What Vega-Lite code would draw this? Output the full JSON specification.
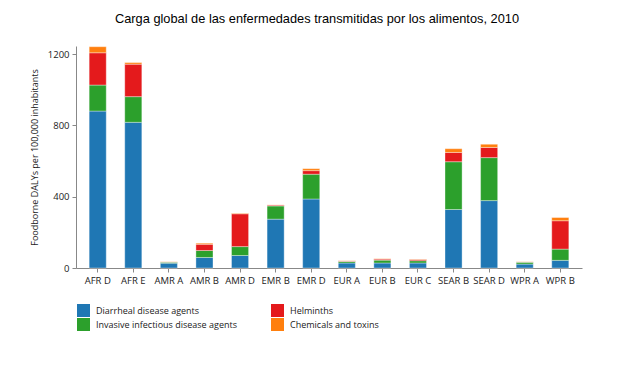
{
  "$schema": "https://vega.github.io/schema/vega-lite/v6.json",
  "width": 506,
  "height": 222,
  "autosize": {"type": "none"},
  "padding": {"left": 76, "top": 46, "right": 48, "bottom": 101},
  "background": "white",
  "title": {
    "text": "Carga global de las enfermedades transmitidas por los alimentos, 2010",
    "font": "Liberation Sans",
    "fontSize": 12.8,
    "fontWeight": "normal",
    "color": "#000000",
    "anchor": "middle",
    "baseline": "alphabetic",
    "offset": 10,
    "dx": -12
  },
  "config": {
    "view": {"stroke": null},
    "axis": {"grid": false, "domainColor": "#888888", "tickColor": "#888888", "tickSize": 4, "labelFont": "Open Sans", "labelFontSize": 9.5, "labelColor": "#222222", "titleFont": "Open Sans", "titleFontSize": 9, "titleFontWeight": "normal", "titleColor": "#222222"}
  },
  "data": {
    "values": [
      {"region": "AFR D", "agent": "Diarrheal disease agents", "dalys": 880},
      {"region": "AFR D", "agent": "Invasive infectious disease agents", "dalys": 146},
      {"region": "AFR D", "agent": "Helminths", "dalys": 181},
      {"region": "AFR D", "agent": "Chemicals and toxins", "dalys": 34},
      {"region": "AFR E", "agent": "Diarrheal disease agents", "dalys": 817},
      {"region": "AFR E", "agent": "Invasive infectious disease agents", "dalys": 144},
      {"region": "AFR E", "agent": "Helminths", "dalys": 182},
      {"region": "AFR E", "agent": "Chemicals and toxins", "dalys": 9},
      {"region": "AMR A", "agent": "Diarrheal disease agents", "dalys": 27},
      {"region": "AMR A", "agent": "Invasive infectious disease agents", "dalys": 6},
      {"region": "AMR A", "agent": "Helminths", "dalys": 1},
      {"region": "AMR A", "agent": "Chemicals and toxins", "dalys": 1},
      {"region": "AMR B", "agent": "Diarrheal disease agents", "dalys": 59},
      {"region": "AMR B", "agent": "Invasive infectious disease agents", "dalys": 39},
      {"region": "AMR B", "agent": "Helminths", "dalys": 35},
      {"region": "AMR B", "agent": "Chemicals and toxins", "dalys": 6},
      {"region": "AMR D", "agent": "Diarrheal disease agents", "dalys": 70},
      {"region": "AMR D", "agent": "Invasive infectious disease agents", "dalys": 50},
      {"region": "AMR D", "agent": "Helminths", "dalys": 184},
      {"region": "AMR D", "agent": "Chemicals and toxins", "dalys": 3},
      {"region": "EMR B", "agent": "Diarrheal disease agents", "dalys": 274},
      {"region": "EMR B", "agent": "Invasive infectious disease agents", "dalys": 74},
      {"region": "EMR B", "agent": "Helminths", "dalys": 5},
      {"region": "EMR B", "agent": "Chemicals and toxins", "dalys": 1},
      {"region": "EMR D", "agent": "Diarrheal disease agents", "dalys": 387},
      {"region": "EMR D", "agent": "Invasive infectious disease agents", "dalys": 139},
      {"region": "EMR D", "agent": "Helminths", "dalys": 20},
      {"region": "EMR D", "agent": "Chemicals and toxins", "dalys": 11},
      {"region": "EUR A", "agent": "Diarrheal disease agents", "dalys": 28},
      {"region": "EUR A", "agent": "Invasive infectious disease agents", "dalys": 9},
      {"region": "EUR A", "agent": "Helminths", "dalys": 3},
      {"region": "EUR A", "agent": "Chemicals and toxins", "dalys": 1},
      {"region": "EUR B", "agent": "Diarrheal disease agents", "dalys": 28},
      {"region": "EUR B", "agent": "Invasive infectious disease agents", "dalys": 16},
      {"region": "EUR B", "agent": "Helminths", "dalys": 6},
      {"region": "EUR B", "agent": "Chemicals and toxins", "dalys": 2},
      {"region": "EUR C", "agent": "Diarrheal disease agents", "dalys": 28},
      {"region": "EUR C", "agent": "Invasive infectious disease agents", "dalys": 13},
      {"region": "EUR C", "agent": "Helminths", "dalys": 7},
      {"region": "EUR C", "agent": "Chemicals and toxins", "dalys": 2},
      {"region": "SEAR B", "agent": "Diarrheal disease agents", "dalys": 328},
      {"region": "SEAR B", "agent": "Invasive infectious disease agents", "dalys": 268},
      {"region": "SEAR B", "agent": "Helminths", "dalys": 52},
      {"region": "SEAR B", "agent": "Chemicals and toxins", "dalys": 21},
      {"region": "SEAR D", "agent": "Diarrheal disease agents", "dalys": 378},
      {"region": "SEAR D", "agent": "Invasive infectious disease agents", "dalys": 241},
      {"region": "SEAR D", "agent": "Helminths", "dalys": 57},
      {"region": "SEAR D", "agent": "Chemicals and toxins", "dalys": 18},
      {"region": "WPR A", "agent": "Diarrheal disease agents", "dalys": 22},
      {"region": "WPR A", "agent": "Invasive infectious disease agents", "dalys": 11},
      {"region": "WPR A", "agent": "Helminths", "dalys": 1},
      {"region": "WPR A", "agent": "Chemicals and toxins", "dalys": 1},
      {"region": "WPR B", "agent": "Diarrheal disease agents", "dalys": 43},
      {"region": "WPR B", "agent": "Invasive infectious disease agents", "dalys": 63},
      {"region": "WPR B", "agent": "Helminths", "dalys": 159},
      {"region": "WPR B", "agent": "Chemicals and toxins", "dalys": 18}
    ]
  },
  "transform": [
    {"calculate": "indexof(['Diarrheal disease agents','Invasive infectious disease agents','Helminths','Chemicals and toxins'], datum.agent)", "as": "stackOrder"}
  ],
  "mark": {"type": "bar", "stroke": "white", "strokeWidth": 0.6, "strokeOpacity": 0.6},
  "encoding": {
    "x": {
      "field": "region", "type": "nominal", "sort": null,
      "scale": {"paddingInner": 0.52, "paddingOuter": 0.37},
      "axis": {"title": null, "labelAngle": 0, "labelPadding": 3}
    },
    "y": {
      "field": "dalys", "type": "quantitative", "stack": "zero",
      "scale": {"domain": [0, 1245], "nice": false},
      "axis": {"title": "Foodborne DALYs per 100,000 inhabitants", "values": [0, 400, 800, 1200], "format": "d", "labelPadding": 3, "titlePadding": 8}
    },
    "color": {
      "field": "agent", "type": "nominal",
      "scale": {
        "domain": ["Diarrheal disease agents", "Helminths", "Invasive infectious disease agents", "Chemicals and toxins"],
        "range": ["#1f77b4", "#e41a1c", "#2ca02c", "#ff7f0e"]
      },
      "legend": {
        "title": null, "orient": "none", "legendX": 1, "legendY": 258,
        "direction": "horizontal", "columns": 2, "symbolType": "square", "symbolSize": 169,
        "symbolStrokeWidth": 0, "symbolOpacity": 1, "labelFont": "Open Sans", "labelFontSize": 9, "labelColor": "#222222",
        "labelOffset": 6, "rowPadding": 1, "columnPadding": 34
      }
    },
    "order": {"field": "stackOrder", "type": "quantitative"}
  }
}
